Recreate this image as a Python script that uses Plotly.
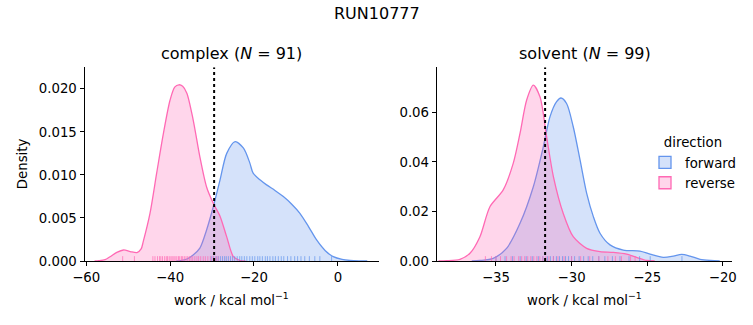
import plotly.graph_objects as go

# ---------------- data ----------------
title_text = "RUN10777"
panel_titles = ["complex (<i>N</i> = 91)", "solvent (<i>N</i> = 99)"]
series_names = ["forward", "reverse"]

# complex: KDE curves
cx_fwd_x = [-38.5, -37.6, -36.0, -34.5, -32.9, -31.3, -29.7, -28.1, -26.5, -24.5, -22.5, -21.0,
            -20.2, -18.5, -17.0, -15.0, -13.0, -11.0, -9.05, -7.0, -5.07, -3.0, -1.1, 1.0, 2.9, 5.0, 7.0]
cx_fwd_y = [0.0, 0.00005, 0.00023, 0.0007, 0.0015, 0.0036, 0.0063, 0.0094, 0.0125, 0.01387, 0.0131, 0.0114,
            0.0102, 0.0094, 0.00884, 0.0082, 0.00748, 0.0066, 0.00554, 0.0040, 0.00244, 0.0012, 0.0005,
            0.00018, 0.00006, 0.00001, 0.0]
cx_rev_x = [-58.0, -57.0, -55.5, -54.3, -52.7, -51.1, -49.5, -47.9, -46.9, -46.4, -44.8, -43.2, -41.6,
            -40.0, -38.9, -37.9, -37.0, -36.0, -34.5, -32.9, -31.3, -29.7, -28.1, -26.5, -24.9, -23.3, -22.0]
cx_rev_y = [0.0, 0.00003, 0.00015, 0.0005, 0.0010, 0.00128, 0.0011, 0.00097, 0.0014, 0.00225, 0.0055,
            0.0102, 0.0148, 0.0187, 0.0202, 0.02047, 0.0203, 0.0195, 0.0164, 0.0121, 0.0086, 0.0067,
            0.0052, 0.0028, 0.0005, 0.00005, 0.0]

# solvent: KDE curves
sv_fwd_x = [-36.6, -36.06, -35.18, -34.3, -33.41, -32.53, -31.87, -31.43, -30.99, -30.7, -30.33, -29.89,
            -29.44, -29.0, -28.56, -28.12, -27.46, -26.58, -25.48, -24.81, -23.93, -23.27, -22.72, -22.17,
            -21.5, -20.8, -20.2]
sv_fwd_y = [0.0, 0.0002, 0.0011, 0.0051, 0.0152, 0.030, 0.0461, 0.0582, 0.0643, 0.0658, 0.0636, 0.0542,
            0.0408, 0.0273, 0.0179, 0.0112, 0.0065, 0.0044, 0.0040, 0.0028, 0.0015, 0.0020, 0.0027, 0.0020,
            0.0007, 0.0002, 0.0]
sv_rev_x = [-38.8, -38.26, -37.38, -36.72, -36.06, -35.4, -34.52, -33.86, -33.41, -32.97, -32.53, -32.09,
            -31.65, -31.2, -30.55, -29.89, -29.0, -28.12, -27.24, -26.36, -25.7, -25.03, -24.5]
sv_rev_y = [0.0, 0.0001, 0.0007, 0.0031, 0.0098, 0.0219, 0.0287, 0.0394, 0.0515, 0.065, 0.0710, 0.0663,
            0.0502, 0.034, 0.0192, 0.0098, 0.0051, 0.0038, 0.0035, 0.0028, 0.0015, 0.0002, 0.0]

# rug (individual work values)
cx_fwd_rug = [-30.2, -29.6, -29.0, -28.5, -28.0, -27.5, -27.0, -26.6, -26.1, -25.6, -25.1, -24.6, -24.0,
              -23.4, -22.9, -22.3, -21.7, -21.0, -20.4, -19.8, -19.1, -18.6, -18.0, -17.3, -16.8, -16.2,
              -15.5, -14.9, -14.2, -13.5, -12.9, -12.0, -11.2, -10.3, -9.6, -8.8, -7.9, -6.8, -5.5, -4.3, -1.5]
cx_rev_rug = [-51.3, -48.5, -44.1, -43.6, -43.0, -42.5, -42.2, -41.8, -41.3, -40.9, -40.6, -40.2, -39.8,
              -39.5, -39.1, -38.8, -38.4, -38.0, -37.7, -37.3, -37.0, -36.6, -36.2, -35.8, -35.4, -35.0,
              -34.6, -34.1, -33.6, -33.2, -32.7, -32.1, -31.6, -31.0, -30.4, -29.8, -29.1, -28.6]
sv_fwd_rug = [-35.0, -34.4, -33.9, -33.4, -33.0, -32.6, -32.2, -31.9, -31.6, -31.4, -31.2, -31.0, -30.8,
              -30.6, -30.4, -30.2, -30.0, -29.8, -29.5, -29.2, -28.9, -28.6, -28.2, -27.8, -27.3, -26.8,
              -26.2, -25.5, -24.8, -22.7]
sv_rev_rug = [-35.7, -35.3, -35.0, -34.7, -34.3, -34.0, -33.8, -33.5, -33.3, -33.1, -32.9, -32.7, -32.5,
              -32.3, -32.1, -31.9, -31.7, -31.5, -31.2, -30.9, -30.5, -30.0, -29.4, -28.8, -28.2, -27.6,
              -27.1, -26.7, -26.1, -25.8]

# free-energy estimate (dotted line)
cx_estimate = -29.5
sv_estimate = -31.75

# axis ranges / ticks
cx_xrange = [-60.4, 9.8]
cx_yrange = [0, 0.0225]
sv_xrange = [-38.92, -19.37]
sv_yrange = [0, 0.0782]
cx_xticks = [-60, -40, -20, 0]
cx_yticks = [0.0, 0.005, 0.010, 0.015, 0.020]
sv_xticks = [-35, -30, -25, -20]
sv_yticks = [0.0, 0.02, 0.04, 0.06]

# ---------------- styling ----------------
FONT = "DejaVu Sans"
COL_LINE = {"forward": "#6495ED", "reverse": "#FF69B4"}
COL_FILL = {"forward": "rgba(100,149,237,0.27)", "reverse": "rgba(255,105,180,0.27)"}
COL_RUG = {"forward": "rgba(100,149,237,0.7)", "reverse": "rgba(255,105,180,0.7)"}
W, H = 753, 325

fig = go.Figure()


def rug_xy(vals, h):
    xs, ys = [], []
    for v in vals:
        xs += [v, v, None]
        ys += [0, h, None]
    return xs, ys


panels = [
    dict(ax="x", ay="y", curves=[("forward", cx_fwd_x, cx_fwd_y, cx_fwd_rug),
                                 ("reverse", cx_rev_x, cx_rev_y, cx_rev_rug)],
         yr=cx_yrange, est=cx_estimate),
    dict(ax="x2", ay="y2", curves=[("forward", sv_fwd_x, sv_fwd_y, sv_fwd_rug),
                                   ("reverse", sv_rev_x, sv_rev_y, sv_rev_rug)],
         yr=sv_yrange, est=sv_estimate),
]

for p in panels:
    for name, xs, ys, rug in p["curves"]:
        fig.add_trace(go.Scatter(
            x=xs, y=ys, mode="lines", name=name, legendgroup=name, showlegend=False,
            line=dict(color=COL_LINE[name], width=1.3, shape="spline", smoothing=0.8),
            fill="tozeroy", fillcolor=COL_FILL[name], xaxis=p["ax"], yaxis=p["ay"],
            hoverinfo="skip"))
    for name, xs, ys, rug in p["curves"]:
        rx, ry = rug_xy(rug, p["yr"][1] * 0.025)
        fig.add_trace(go.Scatter(
            x=rx, y=ry, mode="lines", showlegend=False, legendgroup=name,
            line=dict(color=COL_RUG[name], width=1), xaxis=p["ax"], yaxis=p["ay"],
            hoverinfo="skip"))
    fig.add_trace(go.Scatter(
        x=[p["est"], p["est"]], y=[p["yr"][0], p["yr"][1]], mode="lines", showlegend=False,
        line=dict(color="black", width=2, dash="dot"), xaxis=p["ax"], yaxis=p["ay"],
        hoverinfo="skip"))

# legend entries (patch-style keys)
for name in series_names:
    fig.add_trace(go.Bar(x=[None], y=[None], name=name, legendgroup=name, showlegend=True,
                         marker=dict(color=COL_FILL[name], line=dict(color=COL_LINE[name], width=1.3)),
                         xaxis="x2", yaxis="y2", hoverinfo="skip"))

ydom = [1 - 261 / H, 1 - 67.3 / H]
axis_common = dict(showline=True, linecolor="black", linewidth=1, ticks="outside", ticklen=4,
                   tickcolor="black", tickwidth=1, showgrid=False, zeroline=False, automargin=False,
                   tickfont=dict(family=FONT, size=13.3, color="black"), mirror=False)
xlabel = "work / kcal mol<sup>−1</sup>"
LBL_FONT = dict(family=FONT, size=13.3, color="black")

fig.update_layout(
    width=W, height=H, margin=dict(l=0, r=0, t=0, b=0),
    paper_bgcolor="white", plot_bgcolor="white",
    font=dict(family=FONT, color="black"),
    xaxis=dict(domain=[84.5 / W, 379 / W], range=cx_xrange, tickvals=cx_xticks, anchor="y",
               **axis_common),
    yaxis=dict(domain=ydom, range=cx_yrange, tickvals=cx_yticks, tickformat=".3f", anchor="x",
               **axis_common),
    xaxis2=dict(domain=[436.7 / W, 732.3 / W], range=sv_xrange, tickvals=sv_xticks, anchor="y2",
                **axis_common),
    yaxis2=dict(domain=ydom, range=sv_yrange, tickvals=sv_yticks, tickformat=".2f", anchor="x2",
                **axis_common),
    legend=dict(x=645 / W, y=1 - 130 / H, xanchor="left", yanchor="top",
                bgcolor="rgba(0,0,0,0)", font=LBL_FONT,
                title=dict(text="direction", side="top center", font=LBL_FONT),
                itemwidth=30, tracegroupgap=0),
    showlegend=True,
    annotations=[
        dict(text=title_text, x=0.5, y=1 - 13 / H, xref="paper", yref="paper", showarrow=False,
             xanchor="center", yanchor="middle", font=dict(family=FONT, size=16, color="black")),
        dict(text=panel_titles[0], x=(84.5 + 379) / 2 / W, y=1 - 54 / H, xref="paper", yref="paper",
             showarrow=False, xanchor="center", yanchor="middle",
             font=dict(family=FONT, size=16, color="black")),
        dict(text=panel_titles[1], x=(436.7 + 732.3) / 2 / W, y=1 - 54 / H, xref="paper", yref="paper",
             showarrow=False, xanchor="center", yanchor="middle",
             font=dict(family=FONT, size=16, color="black")),
        dict(text=xlabel, x=(84.5 + 379) / 2 / W, y=1 - 299 / H, xref="paper", yref="paper",
             showarrow=False, xanchor="center", yanchor="middle", font=LBL_FONT),
        dict(text=xlabel, x=(436.7 + 732.3) / 2 / W, y=1 - 299 / H, xref="paper", yref="paper",
             showarrow=False, xanchor="center", yanchor="middle", font=LBL_FONT),
        dict(text="Density", x=22 / W, y=(ydom[0] + ydom[1]) / 2, xref="paper", yref="paper",
             showarrow=False, xanchor="center", yanchor="middle", textangle=-90, font=LBL_FONT),
    ],
)

fig.write_html("out.html")
